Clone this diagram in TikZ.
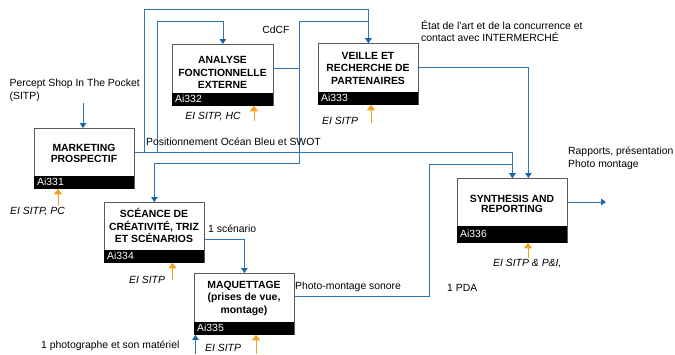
\documentclass[tikz,border=0pt]{standalone}
\usepackage{fontspec}
\setmainfont{Liberation Sans}
\usetikzlibrary{arrows.meta,calc}
\definecolor{flowblue}{RGB}{46,117,182}
\definecolor{tipblue}{RGB}{25,100,175}
\definecolor{mechorange}{RGB}{245,160,30}
\definecolor{boxgray}{RGB}{90,90,90}
\tikzset{
  box/.style={draw=boxgray, line width=0.8pt, fill=white, anchor=north west, inner sep=0pt},
  boxtext/.style={font=\fontsize{10.4}{12.5}\selectfont\bfseries, align=center, inner sep=0pt},
  bar/.style={fill=black, text=white, minimum height=13pt, inner xsep=3pt, inner ysep=0pt, align=left, anchor=south west, font=\fontsize{10.4}{12.5}\selectfont},
  flow/.style={draw=flowblue, line width=0.8pt, -{Triangle[width=6.5pt,length=5pt,color=tipblue]}},
  flowline/.style={draw=flowblue, line width=0.8pt},
  mech/.style={draw=mechorange, line width=0.9pt, -{Triangle[width=8pt,length=5.5pt]}},
  lbl/.style={font=\fontsize{10.4}{12.5}\selectfont, inner sep=0pt, align=left},
  ilbl/.style={font=\fontsize{10.4}{12.5}\selectfont\itshape, inner sep=0pt, align=left},
}
\begin{document}
\begin{tikzpicture}[x=1pt,y=-1pt]
\useasboundingbox (0,0) rectangle (675,354);

% boxes
\node[box, minimum width=100pt, minimum height=60pt] (m) at (34,128) {};
\node[bar, text width=94pt] (mbar) at (m.south west) {Ai331};
\node[boxtext] (mt) at (84,153.5) {MARKETING\\[-1.5pt]PROSPECTIF};

\node[box, minimum width=101pt, minimum height=61pt] (a) at (172,44) {};
\node[bar, text width=95pt] (abar) at (a.south west) {Ai332};
\node[boxtext] (at) at (222.5,72.5) {ANALYSE\\FONCTIONNELLE\\EXTERNE};

\node[box, minimum width=100pt, minimum height=61pt] (v) at (318,43) {};
\node[bar, text width=94pt] (vbar) at (v.south west) {Ai333};
\node[boxtext] (vt) at (368,68) {VEILLE ET\\RECHERCHE DE\\PARTENAIRES};

\node[box, minimum width=100pt, minimum height=60pt] (sc) at (104,202) {};
\node[bar, text width=94pt] (scbar) at (sc.south west) {Ai334};
\node[boxtext] (sct) at (154,225.5) {SCÉANCE DE\\CRÉATIVITÉ, TRIZ\\ET SCÉNARIOS};

\node[box, minimum width=100pt, minimum height=61pt] (mq) at (194,273) {};
\node[bar, text width=94pt] (mqbar) at (mq.south west) {Ai335};
\node[boxtext] (mqt) at (244,298) {MAQUETTAGE\\(prises de vue,\\montage)};

\node[box, minimum width=110pt, minimum height=64pt] (s) at (457,178) {};
\node[bar, minimum height=17pt, text width=104pt] (sbar) at (s.south west) {Ai336};
\node[boxtext] (st) at (512,204) {SYNTHESIS AND\\[-2.5pt]REPORTING};

% coordinates for free ends and routing
\coordinate (in1) at (83,103);
\coordinate (out1) at (606,202);
\coordinate (in2) at (195.5,354);
\coordinate (ra) at (157,21);
\coordinate (rv) at (144,9);
\coordinate (rb) at (299,21);
\coordinate (rc) at (299,163);
\coordinate (rd) at (429,164);

% blue flows
\draw[flow] (in1) -- (in1 |- m.north);
\draw[flow] ([yshift=-24pt]m.north east) -| (ra) -| (a.north);
\draw[flow] ([yshift=-24pt]m.north east) -| (rv) -| (v.north);
\draw[flow] ([yshift=-24pt]m.north east) -| (s.north);
\draw[flowline] ([yshift=-24pt]a.north east) -| (rb);
\draw[flow] (rb) -| (v.north);
\draw[flow] ([yshift=-24pt]a.north east) -| (rc) -| (sc.north);
\draw[flow] ([yshift=-24pt]v.north east) -| ([xshift=16pt]s.north);
\draw[flow] ([yshift=-37pt]sc.north east) -| (mq.north);
\draw[flow] ([yshift=-23.5pt]mq.north east) -| (rd) -| (s.north);
\draw[flow] ([yshift=-24pt]s.north east) -- (out1);
\draw[flow] (in2) -- (in2 |- mq.south);

% orange mechanisms
\coordinate (o1) at (58,205);
\coordinate (o2) at (254,121);
\coordinate (o3) at (371,123);
\coordinate (o4) at (172.5,280);
\coordinate (o5) at (256,354);
\coordinate (o6) at (528,258);
\draw[mech] (o1) -- (o1 |- mbar.south);
\draw[mech] (o2) -- (o2 |- abar.south);
\draw[mech] (o3) -- (o3 |- vbar.south);
\draw[mech] (o4) -- (o4 |- scbar.south);
\draw[mech] (o5) -- (o5 |- mqbar.south);
\draw[mech] (o6) -- (o6 |- sbar.south);

% labels
\node[lbl, anchor=west] (l1) at (9.5,90.5) {Percept Shop In The Pocket\\(SITP)};
\node[lbl] (l2) at (276,30) {CdCF};
\node[lbl, anchor=west] (l3) at (421,31) {État de l’art et de la concurrence et\\contact avec INTERMERCHÉ};
\node[lbl, anchor=west] (l4) at (146,141.5) {Positionnement Océan Bleu et SWOT};
\node[lbl, anchor=west] (l5) at (568,158) {Rapports, présentation\\Photo montage};
\node[ilbl] (l6) at (213,117) {EI SITP, HC};
\node[ilbl, anchor=west] (l7) at (322,120.5) {EI SITP};
\node[ilbl, anchor=west] (l8) at (10,212) {EI SITP, PC};
\node[ilbl, anchor=west] (l9) at (129,280) {EI SITP};
\node[lbl, anchor=west] (l10) at (208,229) {1 scénario};
\node[lbl, anchor=west] (l11) at (295,287) {Photo-montage sonore};
\node[lbl, anchor=west] (l12) at (447,287.5) {1 PDA};
\node[ilbl, anchor=west] (l13) at (493,264) {EI SITP \& P\&I,};
\node[lbl, anchor=west] (l14) at (41,346) {1 photographe et son matériel};
\node[ilbl, anchor=west] (l15) at (205,348) {EI SITP};
\end{tikzpicture}
\end{document}
